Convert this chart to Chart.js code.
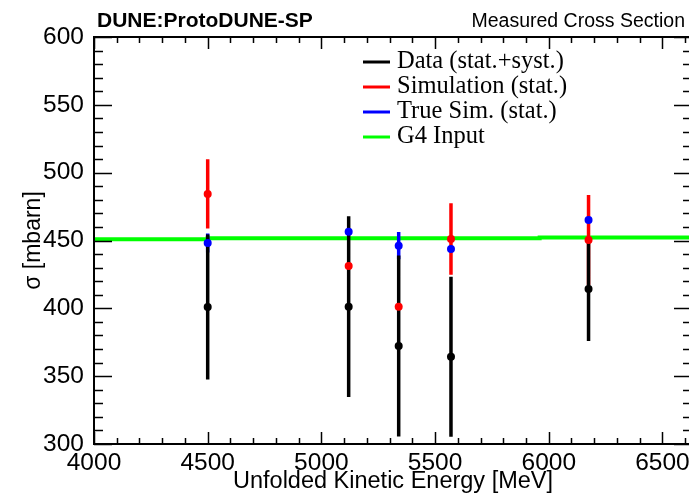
<!DOCTYPE html>
<html>
<head>
<meta charset="utf-8">
<script src="https://cdn.jsdelivr.net/npm/chart.js@4/dist/chart.umd.min.js"></script>
<style>
  html, body { margin: 0; padding: 0; background: #fff; overflow: hidden; }
  #wrap { width: 689px; height: 495px; overflow: hidden; }
</style>
</head>
<body>
<div id="wrap"><canvas id="c" width="700" height="495"></canvas></div>
<script>
// Measured points (bin centres in MeV, cross sections in mbarn)
const energies = [4500, 5120, 5340, 5570, 6175];

const dataVals = [401.0, 401.2, 372.2, 364.3, 414.2];
const dataErrs = [53.4, 66.6, 66.7, 59.0, 38.3];

const simVals = [484.3, 431.2, 401.2, 451.1, 450.4];
const simErrs = [25.5, 1.5, 1.5, 26.3, 33.2];

const trueVals = [448.2, 456.5, 446.2, 443.7, 465.1];
const trueErrs = [7.0, 1.5, 10.0, 1.5, 1.5];

// G4 input histogram: bin edges and contents
const g4Edges = [4000, 4500, 5960, 6630];
const g4Vals = [450.9, 451.6, 452.3];

const legendLabels = ['Data (stat.+syst.)', 'Simulation (stat.)', 'True Sim. (stat.)', 'G4 Input'];
const legendColors = ['#000000', '#ff0000', '#0000ff', '#00ff00'];

const SANS = "'Liberation Sans', Arial, Helvetica, sans-serif";
const SERIF = "'Liberation Serif', 'Times New Roman', serif";

// vertical error bars as line segments separated by gaps
function errorSegments(xs, ys, errs) {
    const pts = [];
    xs.forEach((x, i) => {
        pts.push({ x: x, y: ys[i] - errs[i] });
        pts.push({ x: x, y: ys[i] + errs[i] });
        pts.push({ x: x, y: null });
    });
    return pts;
}

function markers(xs, ys) {
    return xs.map((x, i) => ({ x: x, y: ys[i] }));
}

const g4Points = g4Edges.map((e, i) => ({ x: e, y: g4Vals[Math.min(i, g4Vals.length - 1)] }));

// ROOT-like frame with inward ticks, title texts and legend
const rootStyle = {
    id: 'rootStyle',
    afterDraw(chart) {
        const ctx = chart.ctx;
        const a = chart.chartArea;
        const xs = chart.scales.x;
        const ys = chart.scales.y;
        ctx.save();
        ctx.strokeStyle = '#000';

        ctx.lineWidth = 1.5;
        xs.ticks.forEach(t => {
            const px = Math.round(xs.getPixelForValue(t.value)) + 0.5;
            const len = Math.round(t.value) % 500 === 0 ? 12 : 6;
            ctx.beginPath();
            ctx.moveTo(px, a.bottom);
            ctx.lineTo(px, a.bottom - len);
            ctx.moveTo(px, a.top);
            ctx.lineTo(px, a.top + len);
            ctx.stroke();
        });
        ys.ticks.forEach(t => {
            const py = Math.round(ys.getPixelForValue(t.value)) + 0.5;
            const len = Math.round(t.value) % 50 === 0 ? 18 : 9;
            ctx.beginPath();
            ctx.moveTo(a.left, py);
            ctx.lineTo(a.left + len, py);
            ctx.moveTo(a.right, py);
            ctx.lineTo(a.right - len, py);
            ctx.stroke();
        });

        ctx.lineWidth = 2;
        ctx.strokeRect(a.left, a.top, a.right - a.left, a.bottom - a.top);

        ctx.fillStyle = '#000';
        ctx.textBaseline = 'alphabetic';
        ctx.font = 'bold 21px ' + SANS;
        ctx.textAlign = 'left';
        ctx.fillText('DUNE:ProtoDUNE-SP', 97, 27);
        ctx.font = '19.5px ' + SANS;
        ctx.textAlign = 'right';
        ctx.fillText('Measured Cross Section', 685, 27);

        // legend
        ctx.font = '24.5px ' + SERIF;
        ctx.textAlign = 'left';
        ctx.textBaseline = 'middle';
        legendLabels.forEach((lab, i) => {
            const y = 62 + i * 25;
            ctx.strokeStyle = legendColors[i];
            ctx.lineWidth = 3;
            ctx.beginPath();
            ctx.moveTo(363, y);
            ctx.lineTo(390, y);
            ctx.stroke();
            ctx.fillStyle = '#000';
            ctx.fillText(lab, 397, y);
        });
        ctx.restore();
    }
};

new Chart(document.getElementById('c'), {
    type: 'line',
    data: {
        datasets: [
            { label: 'G4 Input', data: g4Points, borderColor: '#00ff00', borderWidth: 4,
              stepped: 'before', pointRadius: 0, order: 10 },
            { label: 'sim err', data: errorSegments(energies, simVals, simErrs), borderColor: '#ff0000',
              borderWidth: 3.5, pointRadius: 0, spanGaps: false, order: 9 },
            { label: 'true err', data: errorSegments(energies, trueVals, trueErrs), borderColor: '#0000ff',
              borderWidth: 3.5, pointRadius: 0, spanGaps: false, order: 8 },
            { label: 'data err', data: errorSegments(energies, dataVals, dataErrs), borderColor: '#000000',
              borderWidth: 3.5, pointRadius: 0, spanGaps: false, order: 7 },
            { label: 'Data', data: markers(energies, dataVals), showLine: false, pointRadius: 4,
              pointBackgroundColor: '#000', pointBorderWidth: 0, order: 3 },
            { label: 'Simulation', data: markers(energies, simVals), showLine: false, pointRadius: 4,
              pointBackgroundColor: '#ff0000', pointBorderWidth: 0, order: 2 },
            { label: 'True Sim.', data: markers(energies, trueVals), showLine: false, pointRadius: 4,
              pointBackgroundColor: '#0000ff', pointBorderWidth: 0, order: 1 }
        ]
    },
    options: {
        responsive: false,
        animation: false,
        events: [],
        layout: { padding: { top: 37, right: 8, left: 0, bottom: 0 } },
        plugins: { legend: { display: false }, tooltip: { enabled: false } },
        scales: {
            x: {
                type: 'linear', min: 4000, max: 6630,
                grid: { display: false, drawTicks: false },
                border: { display: false },
                ticks: {
                    stepSize: 100, autoSkip: false, maxRotation: 0, includeBounds: false,
                    padding: 5, color: '#000', font: { family: SANS, size: 24.5 },
                    callback: v => Math.round(v) % 500 === 0 ? String(Math.round(v)) : ''
                },
                title: { display: true, text: 'Unfolded Kinetic Energy [MeV]', color: '#000',
                         font: { family: SANS, size: 23.5 }, padding: { top: 0, bottom: -1 } },
                afterFit: s => { s.height = 51; }
            },
            y: {
                min: 300, max: 600,
                grid: { display: false, drawTicks: false },
                border: { display: false },
                ticks: {
                    stepSize: 10, autoSkip: false, padding: 10, color: '#000',
                    font: { family: SANS, size: 24.5 },
                    callback: v => Math.round(v) % 50 === 0 ? String(Math.round(v)) : ''
                },
                title: { display: true, text: 'σ [mbarn]', color: '#000',
                         font: { family: SANS, size: 23 }, padding: { top: 20, bottom: 0 } },
                afterFit: s => { s.width = 94; }
            }
        }
    },
    plugins: [rootStyle]
});
</script>
</body>
</html>
